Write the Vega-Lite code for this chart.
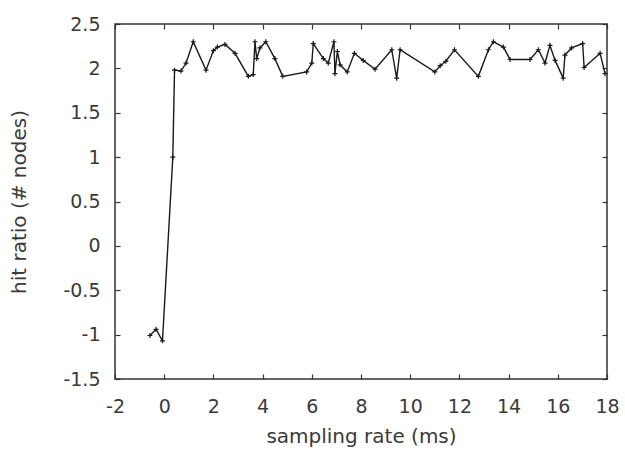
{
  "$schema": "https://vega.github.io/schema/vega-lite/v6.json",
  "width": 492,
  "height": 355,
  "autosize": {"type": "none"},
  "padding": {"left": 115, "top": 24, "right": 18, "bottom": 71},
  "background": "white",
  "config": {
    "view": {"stroke": "#333333", "strokeWidth": 1.5},
    "axis": {
      "grid": false,
      "domain": false,
      "tickColor": "#333333",
      "tickSize": -5,
      "tickWidth": 1.2,
      "labelFont": "DejaVu Sans",
      "labelFontSize": 19,
      "labelColor": "#3a3a3a",
      "labelOverlap": false,
      "labelFlush": false,
      "labelExpr": "replace(datum.label, '−', '-')",
      "format": "~g",
      "titleFont": "DejaVu Sans",
      "titleFontSize": 20,
      "titleFontWeight": "normal",
      "titleColor": "#3a3a3a"
    }
  },
  "data": {
    "values": [
      {"i": 1, "x": -0.58, "y": -1.01},
      {"i": 2, "x": -0.33, "y": -0.94},
      {"i": 3, "x": -0.07, "y": -1.07},
      {"i": 4, "x": 0.35, "y": 1.0},
      {"i": 5, "x": 0.42, "y": 1.98},
      {"i": 6, "x": 0.68, "y": 1.97},
      {"i": 7, "x": 0.89, "y": 2.06},
      {"i": 8, "x": 1.18, "y": 2.3},
      {"i": 9, "x": 1.7, "y": 1.98},
      {"i": 10, "x": 2.0, "y": 2.2},
      {"i": 11, "x": 2.16, "y": 2.24},
      {"i": 12, "x": 2.47, "y": 2.27},
      {"i": 13, "x": 2.88, "y": 2.17},
      {"i": 14, "x": 3.42, "y": 1.91},
      {"i": 15, "x": 3.62, "y": 1.93},
      {"i": 16, "x": 3.69, "y": 2.3},
      {"i": 17, "x": 3.76, "y": 2.11},
      {"i": 18, "x": 3.89, "y": 2.23},
      {"i": 19, "x": 4.13, "y": 2.3},
      {"i": 20, "x": 4.5, "y": 2.11},
      {"i": 21, "x": 4.82, "y": 1.91},
      {"i": 22, "x": 5.79, "y": 1.96},
      {"i": 23, "x": 6.0, "y": 2.06},
      {"i": 24, "x": 6.06, "y": 2.28},
      {"i": 25, "x": 6.47, "y": 2.11},
      {"i": 26, "x": 6.67, "y": 2.06},
      {"i": 27, "x": 6.9, "y": 2.3},
      {"i": 28, "x": 6.94, "y": 1.94},
      {"i": 29, "x": 7.04, "y": 2.19},
      {"i": 30, "x": 7.15, "y": 2.04},
      {"i": 31, "x": 7.44, "y": 1.96},
      {"i": 32, "x": 7.73, "y": 2.17},
      {"i": 33, "x": 8.09, "y": 2.09},
      {"i": 34, "x": 8.57, "y": 1.99},
      {"i": 35, "x": 9.25, "y": 2.21},
      {"i": 36, "x": 9.45, "y": 1.89},
      {"i": 37, "x": 9.59, "y": 2.21},
      {"i": 38, "x": 11.0, "y": 1.96},
      {"i": 39, "x": 11.22, "y": 2.03},
      {"i": 40, "x": 11.45, "y": 2.08},
      {"i": 41, "x": 11.8, "y": 2.21},
      {"i": 42, "x": 12.77, "y": 1.91},
      {"i": 43, "x": 13.18, "y": 2.21},
      {"i": 44, "x": 13.38, "y": 2.3},
      {"i": 45, "x": 13.79, "y": 2.24},
      {"i": 46, "x": 14.06, "y": 2.1},
      {"i": 47, "x": 14.87, "y": 2.1},
      {"i": 48, "x": 15.21, "y": 2.21},
      {"i": 49, "x": 15.48, "y": 2.06},
      {"i": 50, "x": 15.68, "y": 2.26},
      {"i": 51, "x": 15.89, "y": 2.09},
      {"i": 52, "x": 16.22, "y": 1.89},
      {"i": 53, "x": 16.29, "y": 2.15},
      {"i": 54, "x": 16.56, "y": 2.23},
      {"i": 55, "x": 17.01, "y": 2.28},
      {"i": 56, "x": 17.07, "y": 2.01},
      {"i": 57, "x": 17.72, "y": 2.17},
      {"i": 58, "x": 17.92, "y": 1.94}
    ]
  },
  "encoding": {
    "x": {"field": "x", "type": "quantitative", "scale": {"domain": [-2, 18], "nice": false, "zero": false}},
    "y": {"field": "y", "type": "quantitative", "scale": {"domain": [-1.5, 2.5], "nice": false, "zero": false}}
  },
  "layer": [
    {
      "mark": {"type": "line", "color": "#1a1a1a", "strokeWidth": 1.4},
      "encoding": {
        "order": {"field": "i", "type": "quantitative"},
        "x": {"field": "x", "type": "quantitative", "axis": {"orient": "bottom", "title": "sampling rate (ms)", "values": [-2, 0, 2, 4, 6, 8, 10, 12, 14, 16, 18], "labelPadding": 23, "titlePadding": 10}},
        "y": {"field": "y", "type": "quantitative", "axis": {"orient": "left", "title": "hit ratio (# nodes)", "values": [-1.5, -1, -0.5, 0, 0.5, 1, 1.5, 2, 2.5], "labelPadding": 20, "titlePadding": 33}}
      }
    },
    {
      "mark": {"type": "point", "shape": "M-1,0L1,0M0,-1L0,1", "filled": false, "stroke": "#1a1a1a", "strokeWidth": 1.2, "size": 25, "opacity": 1},
      "encoding": {
        "x": {"field": "x", "type": "quantitative", "axis": {"orient": "top", "title": null, "labels": false, "values": [-2, 0, 2, 4, 6, 8, 10, 12, 14, 16, 18]}},
        "y": {"field": "y", "type": "quantitative", "axis": {"orient": "right", "title": null, "labels": false, "values": [-1.5, -1, -0.5, 0, 0.5, 1, 1.5, 2, 2.5]}}
      }
    }
  ],
  "resolve": {"axis": {"x": "independent", "y": "independent"}}
}
